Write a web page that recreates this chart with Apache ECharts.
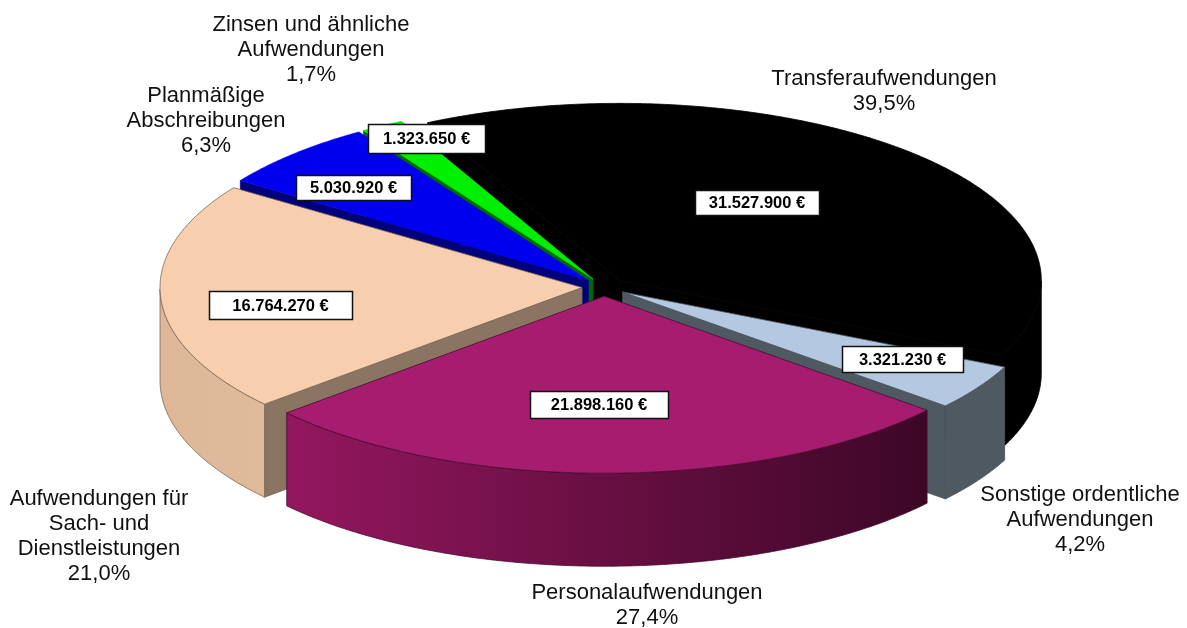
<!DOCTYPE html>
<html><head><meta charset="utf-8">
<style>html,body{margin:0;padding:0;background:#fff}#c{width:1187px;height:628px}</style>
<script src="https://cdn.jsdelivr.net/npm/echarts@6/dist/echarts.min.js"></script>
</head><body><div id="c"></div>
<script>
// ---- data (clockwise from the top of the pie) ----
const categories = ['Transferaufwendungen','Sonstige ordentliche\nAufwendungen','Personalaufwendungen','Aufwendungen für\nSach- und\nDienstleistungen','Planmäßige\nAbschreibungen','Zinsen und ähnliche\nAufwendungen'];
const amounts = [31527900,3321230,21898160,16764270,5030920,1323650];
const shares = ['39,5%','4,2%','27,4%','21,0%','6,3%','1,7%'];
// ---- layout and style, separate from the values ----
const drawOrder = [0,5,4,3,1,2];
const topColors = ['#000000','#B4C8E1','#A61C6E','#F7CFAE','#0000EE','#00EE00'];
const faceColors = ['#000000','#4E5962','#5A0E40','#8A7563','#00007A','#006A00'];
const wallStops = [['#000','#000'],['#4E5962','#4E5962'],['#94175F','#3C0726'],['#DDB797','#E0BB9B'],['#00007A','#00007A'],['#006A00','#006A00']];
const strokes = ['#000','#4a545c','#4a0a30','#7a6453',null,null];
const labelPos = [[884,91],[1080,520],[647,605],[99,536],[206,121],[311,50]];
const boxes = [[695,190,124,25],[842,346,121,26],[530,391,138,27],[209,291,143,28],[296,175,115,25],[368,124,117,29]];
const CX=604, CY=287, RX=422, RY=177, DEPTH=93, EXPLODE=22, START=-27;

const total = amounts.reduce((a,b)=>a+b,0);
const rad = d=>d*Math.PI/180;
const germanEuro = v=>String(v).replace(/\B(?=(\d{3})+$)/g,'.')+' €';

function sliceElements(i, order){
  let a0=START; for(let k=0;k<i;k++) a0+=amounts[k]/total*360;
  const a1=a0+amounts[i]/total*360, mid=(a0+a1)/2;
  const ox=CX+EXPLODE*Math.sin(rad(mid)), oy=CY-EXPLODE*Math.cos(rad(mid))*RY/RX;
  const pt=(d,dz)=>[ox+RX*Math.sin(rad(d)), oy-RY*Math.cos(rad(d))+(dz||0)];
  const arc=[]; const n=Math.ceil(a1-a0)*2;
  for(let k=0;k<=n;k++) arc.push(a0+(a1-a0)*k/n);
  const els=[]; let z=order*10;
  const stroke=strokes[i];
  const add=(points,fill)=>els.push({type:'polygon',z2:z++,shape:{points},style:{fill,stroke:stroke||fill,lineWidth:stroke?0.8:0.5}});
  const norm=d=>((d%360)+360)%360;
  const face=d=>[[ox,oy],pt(d),pt(d,DEPTH),[ox,oy+DEPTH]];
  if(Math.sin(rad(a0))<0) add(face(a0),faceColors[i]);
  if(Math.sin(rad(a1))>0) add(face(a1),faceColors[i]);
  const front=arc.filter(d=>Math.cos(rad(norm(d)))<0);
  if(front.length>1){
    const pts=front.map(d=>pt(d)).concat(front.slice().reverse().map(d=>pt(d,DEPTH)));
    add(pts,new echarts.graphic.LinearGradient(0,0,1,0,[{offset:0,color:wallStops[i][0]},{offset:1,color:wallStops[i][1]}]));
  }
  add([[ox,oy]].concat(arc.map(d=>pt(d))),topColors[i]);
  return els;
}

const sliceSeries={
  type:'custom',coordinateSystem:'none',z:2,silent:true,
  data:amounts.map((v,i)=>[v]),
  renderItem:(p)=>({type:'group',children:sliceElements(p.dataIndex,drawOrder.indexOf(p.dataIndex))})
};
const labelSeries={
  type:'custom',coordinateSystem:'none',z:3,silent:true,
  data:amounts.map((v,i)=>[v]),
  renderItem:(p)=>{
    const i=p.dataIndex,b=boxes[i],l=labelPos[i];
    return {type:'group',children:[
      {type:'rect',shape:{x:b[0]+.5,y:b[1]+.5,width:b[2],height:b[3]},style:{fill:'#fff',stroke:'#111',lineWidth:1.5}},
      {type:'text',z2:1,style:{text:germanEuro(amounts[i]),x:b[0]+b[2]/2,y:b[1]+b[3]/2+1,align:'center',verticalAlign:'middle',fill:'#000',font:'bold 16.5px "Liberation Sans"'}},
      {type:'text',style:{text:categories[i]+'\n'+shares[i],x:l[0],y:l[1],align:'center',verticalAlign:'middle',fill:'#111',font:'22px "Liberation Sans"',lineHeight:25}}
    ]};
  }
};
const chart=echarts.init(document.getElementById('c'),null,{renderer:'canvas'});
chart.setOption({animation:false,backgroundColor:'#fff',series:[sliceSeries,labelSeries]});
</script></body></html>
